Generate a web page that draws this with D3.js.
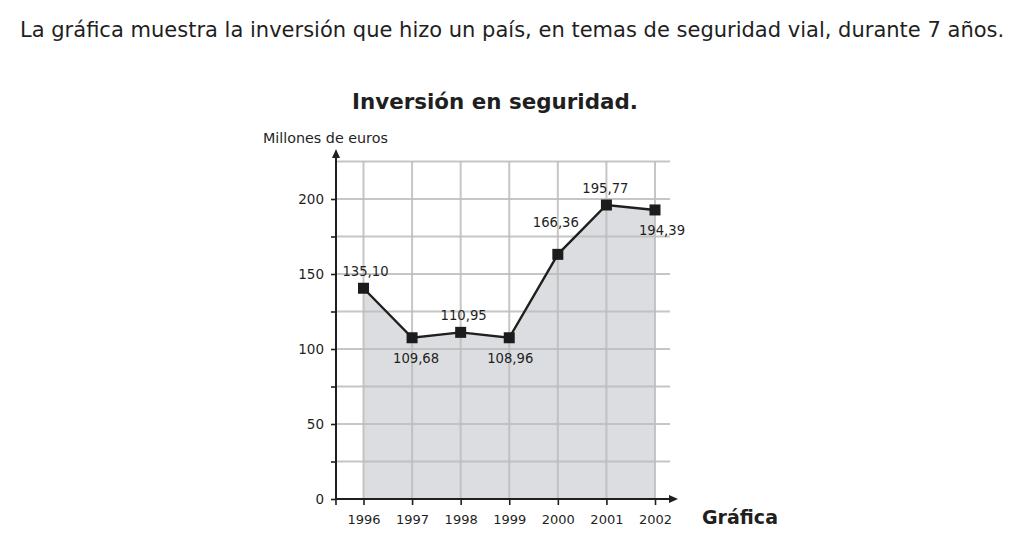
<!DOCTYPE html>
<html>
<head>
<meta charset="utf-8">
<script src="https://cdn.jsdelivr.net/npm/d3@7"></script>
<style>
  html, body { margin: 0; padding: 0; background: #fff; }
  svg { display: block; font-family: "DejaVu Sans", Verdana, sans-serif; }
</style>
</head>
<body>
<svg id="chart" width="1018" height="536"></svg>
<script>
// ---- data ----
const years = [1996, 1997, 1998, 1999, 2000, 2001, 2002];
const values = [140.5, 107.5, 111.1, 107.5, 163.1, 196.0, 192.7];   // plotted positions as read
const valueLabels = ["135,10", "109,68", "110,95", "108,96", "166,36", "195,77", "194,39"];
const labelPlacement = ["above", "below", "above", "below", "high", "above", "below"];
const yTickLabels = [0, 50, 100, 150, 200];
const yGridValues = [25, 50, 75, 100, 125, 150, 175, 200, 225];

const intro = "La gráfica muestra la inversión que hizo un país, en temas de seguridad vial, durante 7 años.";
const title = "Inversión en seguridad.";
const yTitle = "Millones de euros";
const xTitle = "Gráfica";

// ---- layout ----
const svg = d3.select("#chart");
const ink = "#1f1f1f";
const x0 = 336, y0 = 499;
const x = d3.scaleLinear().domain([1996, 2002]).range([363.5, 655]);
const y = d3.scaleLinear().domain([0, 200]).range([y0, 199]);
const gridRight = 670, gridTop = y(225);

function fitText(sel, targetWidth) {
  const node = sel.node();
  const fs = parseFloat(sel.attr("font-size"));
  const w = node.getComputedTextLength();
  sel.attr("font-size", (fs * targetWidth / w).toFixed(2));
}

// intro text
const introT = svg.append("text").attr("x", 20).attr("y", 37)
  .attr("font-size", 20).attr("fill", ink).text(intro);
fitText(introT, 985);

// title
const titleT = svg.append("text").attr("x", 352).attr("y", 109)
  .attr("font-size", 20).attr("font-weight", "bold").attr("fill", ink).text(title);
fitText(titleT, 286);

// y title
const yT = svg.append("text").attr("x", 263).attr("y", 143)
  .attr("font-size", 13).attr("fill", ink).text(yTitle);
fitText(yT, 125);

// area fill
const area = d3.area().x((d, i) => x(years[i])).y0(y(0)).y1(d => y(d));
svg.append("path").datum(values).attr("d", area).attr("fill", "#dcdde0");

// grid: horizontal
svg.append("g").selectAll("line").data(yGridValues).join("line")
  .attr("x1", x0).attr("x2", gridRight)
  .attr("y1", d => y(d)).attr("y2", d => y(d))
  .attr("stroke", "#bdbdbd").attr("stroke-width", 1.8).attr("opacity", 0.85);
// grid: vertical
svg.append("g").selectAll("line").data(years).join("line")
  .attr("x1", d => x(d)).attr("x2", d => x(d))
  .attr("y1", gridTop).attr("y2", y0)
  .attr("stroke", "#bdbdbd").attr("stroke-width", 2).attr("opacity", 0.85);

// y axis
const yAxis = d3.axisLeft(y).tickValues([0].concat(yGridValues.filter(v => v <= 200)))
  .tickSize(5).tickPadding(7)
  .tickFormat(d => yTickLabels.includes(d) ? d3.format("d")(d) : "");
const yg = svg.append("g").attr("transform", `translate(${x0},0)`).call(yAxis);
yg.select(".domain").remove();
yg.selectAll(".tick line").attr("stroke", ink).attr("stroke-width", 1.6);
yg.selectAll(".tick text").attr("font-size", 13.5).attr("fill", ink)
  .attr("font-family", "DejaVu Sans, Verdana, sans-serif");
svg.append("line").attr("x1", x0).attr("x2", x0).attr("y1", y0 + 1).attr("y2", 156)
  .attr("stroke", ink).attr("stroke-width", 2);
svg.append("path").attr("d", `M${x0 - 4},${158} L${x0},${149} L${x0 + 4},${158} Z`).attr("fill", ink);

// x axis
const xAxis = d3.axisBottom(x).tickValues(years).tickSize(6).tickPadding(10)
  .tickFormat(d3.format("d"));
const xg = svg.append("g").attr("transform", `translate(0,${y0})`).call(xAxis);
xg.select(".domain").remove();
xg.selectAll(".tick line").attr("stroke", ink).attr("stroke-width", 1.6);
xg.selectAll(".tick text").attr("font-size", 13).attr("fill", ink)
  .attr("font-family", "DejaVu Sans, Verdana, sans-serif");
svg.append("line").attr("x1", x0).attr("x2", x0).attr("y1", y0).attr("y2", y0 + 6)
  .attr("stroke", ink).attr("stroke-width", 1.6);
svg.append("line").attr("x1", x0 - 1).attr("x2", 671).attr("y1", y0).attr("y2", y0)
  .attr("stroke", ink).attr("stroke-width", 2);
svg.append("path").attr("d", `M${669},${y0 - 4} L${678},${y0} L${669},${y0 + 4} Z`).attr("fill", ink);

// x title
const xT = svg.append("text").attr("x", 702).attr("y", 524)
  .attr("font-size", 18).attr("font-weight", "bold").attr("fill", ink).text(xTitle);
fitText(xT, 76);

// line
const line = d3.line().x((d, i) => x(years[i])).y(d => y(d));
svg.append("path").datum(values).attr("d", line)
  .attr("fill", "none").attr("stroke", ink).attr("stroke-width", 2.4);

// markers
const ms = 11;
svg.append("g").selectAll("rect").data(values).join("rect")
  .attr("x", (d, i) => x(years[i]) - ms / 2).attr("y", d => y(d) - ms / 2)
  .attr("width", ms).attr("height", ms).attr("fill", "#1c1c1c");

// value labels
const dyFor = { above: -12, below: 25, high: -27 };
const dxFor = [2, 4, 3, 1, -2, -1, 7];
svg.append("g").selectAll("text").data(values).join("text")
  .attr("x", (d, i) => x(years[i]) + dxFor[i])
  .attr("y", (d, i) => y(d) + dyFor[labelPlacement[i]])
  .attr("text-anchor", "middle").attr("font-size", 13.2).attr("fill", ink)
  .text((d, i) => valueLabels[i]);
</script>
</body>
</html>
